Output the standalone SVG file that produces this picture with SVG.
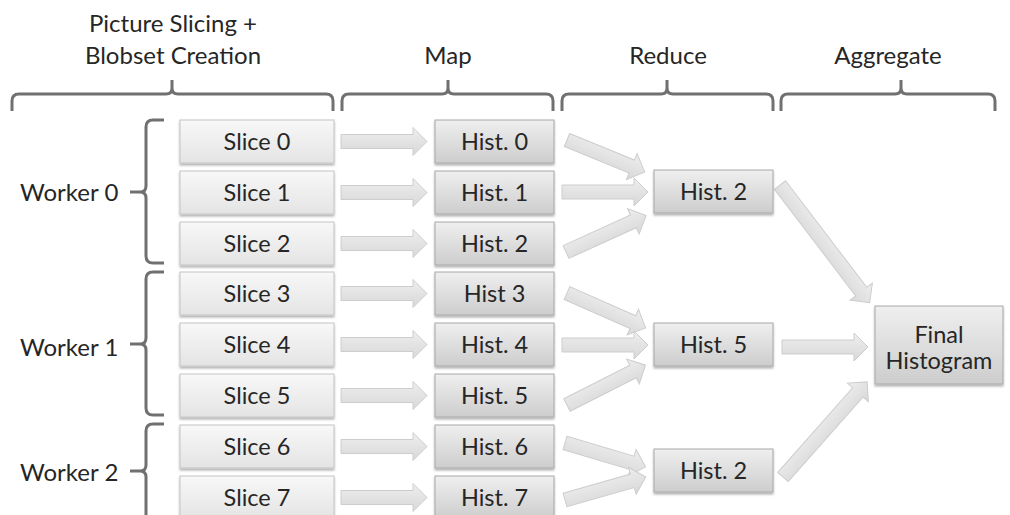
<svg xmlns="http://www.w3.org/2000/svg" width="1010" height="515" viewBox="0 0 1010 515">
<style>
text{font-family:Lato,"Open Sans","Liberation Sans",sans-serif;font-size:23.5px;fill:#262626;text-anchor:middle}
.hd{font-size:24px}
.lab{text-anchor:start;font-size:24px}
.brace{fill:none;stroke:#707070;stroke-width:3;stroke-linejoin:round;stroke-linecap:butt}
.slice{fill:url(#gSlice);stroke:#c4c4c4;stroke-width:1;filter:url(#sh)}
.hist{fill:url(#gHist);stroke:#a8a8a8;stroke-width:1;filter:url(#sh)}
.arr{fill:url(#gArr);stroke:#cdcdcd;stroke-width:1}
</style>
<defs>
<linearGradient id="gSlice" x1="0" y1="0" x2="0" y2="1"><stop offset="0" stop-color="#f8f8f8"/><stop offset="1" stop-color="#e4e4e4"/></linearGradient>
<linearGradient id="gHist" x1="0" y1="0" x2="0" y2="1"><stop offset="0" stop-color="#efefef"/><stop offset="1" stop-color="#cdcdcd"/></linearGradient>
<linearGradient id="gArr" x1="0" y1="0" x2="0" y2="1"><stop offset="0" stop-color="#eeeeee"/><stop offset="1" stop-color="#d8d8d8"/></linearGradient>
<filter id="sh" x="-10%" y="-10%" width="120%" height="140%"><feDropShadow dx="0" dy="2" stdDeviation="1" flood-color="#000" flood-opacity="0.3"/></filter>
<path id="a86" d="M0,-7 H72 V-14 L86,0 L72,14 V7 H0 Z"/>
<path id="a84" d="M0,-7 H70 V-14 L84,0 L70,14 V7 H0 Z"/>
<path id="a88" d="M0,-7 H74 V-14 L88,0 L74,14 V7 H0 Z"/>
<path id="a148" d="M0,-7 H134 V-14 L148,0 L134,14 V7 H0 Z"/>
<path id="a127" d="M0,-7 H113 V-14 L127,0 L113,14 V7 H0 Z"/>
</defs>

<g id="headers">
<text class="hd" x="173" y="32">Picture Slicing +</text>
<text class="hd" x="173" y="64">Blobset Creation</text>
<text class="hd" x="448" y="64">Map</text>
<text class="hd" x="668" y="64">Reduce</text>
<text class="hd" x="888" y="64">Aggregate</text>
<path class="brace" d="M12,111 V101 Q12,94 19,94 H166 Q172,94 172,88 V80 M172,88 Q172,94 178,94 H326 Q333,94 333,101 V111"/>
<path class="brace" d="M342,111 V101 Q342,94 349,94 H442 Q448,94 448,88 V80 M448,88 Q448,94 454,94 H546 Q553,94 553,101 V111"/>
<path class="brace" d="M562,111 V101 Q562,94 569,94 H661 Q667,94 667,88 V80 M667,88 Q667,94 673,94 H766 Q773,94 773,101 V111"/>
<path class="brace" d="M781,111 V101 Q781,94 788,94 H895 Q901,94 901,88 V80 M901,88 Q901,94 907,94 H988 Q995,94 995,101 V111"/>
</g>

<g id="workers">
<g id="worker0">
<path class="brace" d="M164,120 H153 Q146,120 146,127 V186 Q146,192 140,192 H130 M140,192 Q146,192 146,198 V256 Q146,263 153,263 H164"/>
<text class="lab" x="20" y="201">Worker 0</text>
</g>
<g id="worker1">
<path class="brace" d="M164,272 H153 Q146,272 146,279 V338 Q146,344 140,344 H130 M140,344 Q146,344 146,350 V408 Q146,415 153,415 H164"/>
<text class="lab" x="20" y="356">Worker 1</text>
</g>
<g id="worker2">
<path class="brace" d="M164,424 H153 Q146,424 146,431 V465 Q146,471 140,471 H130 M140,471 Q146,471 146,477 V520"/>
<text class="lab" x="20" y="481">Worker 2</text>
</g>
</g>

<g id="connectors">
<use href="#a86" class="arr" transform="translate(341,141.5)"/>
<use href="#a86" class="arr" transform="translate(341,192.5)"/>
<use href="#a86" class="arr" transform="translate(341,243.5)"/>
<use href="#a86" class="arr" transform="translate(341,293.5)"/>
<use href="#a86" class="arr" transform="translate(341,344.5)"/>
<use href="#a86" class="arr" transform="translate(341,395.5)"/>
<use href="#a86" class="arr" transform="translate(341,446.5)"/>
<use href="#a86" class="arr" transform="translate(341,497.5)"/>

<use href="#a84" class="arr" transform="translate(567,140) rotate(22.3)"/>
<use href="#a86" class="arr" transform="translate(562,192)"/>
<use href="#a88" class="arr" transform="translate(566,252) rotate(-24.5)"/>

<use href="#a86" class="arr" transform="translate(567,293) rotate(23.9)"/>
<use href="#a86" class="arr" transform="translate(562,345)"/>
<use href="#a88" class="arr" transform="translate(567,405) rotate(-26.9)"/>

<use href="#a84" class="arr" transform="translate(565,443) rotate(16.5)"/>
<use href="#a84" class="arr" transform="translate(565,500) rotate(-15.9)"/>

<use href="#a148" class="arr" transform="translate(780,185) rotate(52.7)"/>
<use href="#a86" class="arr" transform="translate(782,347)"/>
<use href="#a127" class="arr" transform="translate(783,477) rotate(-48.5)"/>
</g>

<g id="slice0"><rect class="slice" x="180" y="120" width="154" height="43"/><text x="257" y="150">Slice 0</text></g>
<g id="slice1"><rect class="slice" x="180" y="171" width="154" height="43"/><text x="257" y="201">Slice 1</text></g>
<g id="slice2"><rect class="slice" x="180" y="222" width="154" height="43"/><text x="257" y="252">Slice 2</text></g>
<g id="slice3"><rect class="slice" x="180" y="272" width="154" height="43"/><text x="257" y="302">Slice 3</text></g>
<g id="slice4"><rect class="slice" x="180" y="323" width="154" height="43"/><text x="257" y="353">Slice 4</text></g>
<g id="slice5"><rect class="slice" x="180" y="374" width="154" height="43"/><text x="257" y="404">Slice 5</text></g>
<g id="slice6"><rect class="slice" x="180" y="425" width="154" height="43"/><text x="257" y="455">Slice 6</text></g>
<g id="slice7"><rect class="slice" x="180" y="476" width="154" height="43"/><text x="257" y="506">Slice 7</text></g>

<g id="map0"><rect class="hist" x="435" y="120" width="119" height="43"/><text x="494.5" y="150">Hist. 0</text></g>
<g id="map1"><rect class="hist" x="435" y="171" width="119" height="43"/><text x="494.5" y="201">Hist. 1</text></g>
<g id="map2"><rect class="hist" x="435" y="222" width="119" height="43"/><text x="494.5" y="252">Hist. 2</text></g>
<g id="map3"><rect class="hist" x="435" y="272" width="119" height="43"/><text x="494.5" y="302">Hist 3</text></g>
<g id="map4"><rect class="hist" x="435" y="323" width="119" height="43"/><text x="494.5" y="353">Hist. 4</text></g>
<g id="map5"><rect class="hist" x="435" y="374" width="119" height="43"/><text x="494.5" y="404">Hist. 5</text></g>
<g id="map6"><rect class="hist" x="435" y="425" width="119" height="43"/><text x="494.5" y="455">Hist. 6</text></g>
<g id="map7"><rect class="hist" x="435" y="476" width="119" height="43"/><text x="494.5" y="506">Hist. 7</text></g>

<g id="reduce0"><rect class="hist" x="654" y="170" width="119" height="43"/><text x="713.5" y="200">Hist. 2</text></g>
<g id="reduce1"><rect class="hist" x="654" y="323" width="119" height="43"/><text x="713.5" y="353">Hist. 5</text></g>
<g id="reduce2"><rect class="hist" x="654" y="449" width="119" height="43"/><text x="713.5" y="479">Hist. 2</text></g>

<g id="final"><rect class="hist" x="875" y="306" width="128" height="78"/><text x="939" y="343">Final</text><text x="939" y="369">Histogram</text></g>
</svg>
